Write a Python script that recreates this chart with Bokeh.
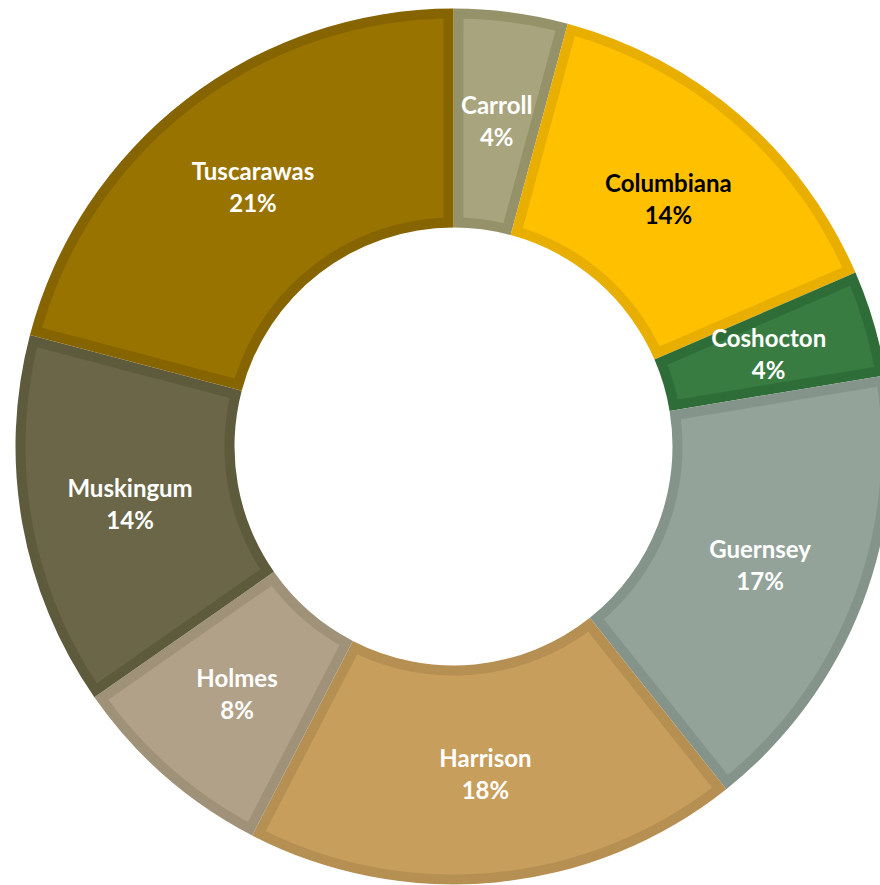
import math
from bokeh.plotting import figure
from bokeh.models import ColumnDataSource
from bokeh.core.properties import value
from bokeh.embed import file_html
from bokeh.resources import INLINE

# ---- data ----
counties = ["Carroll", "Columbiana", "Coshocton", "Guernsey", "Harrison", "Holmes", "Muskingum", "Tuscarawas"]
shares = [4.2, 14.3, 3.9, 16.9, 18.3, 7.7, 13.8, 20.9]
fill_colors = ["#A8A47D", "#FFC000", "#387C42", "#93A39A", "#C89E5C", "#B0A188", "#6B6647", "#997300"]
edge_colors = ["#959269", "#E8AE00", "#2F6D38", "#84948B", "#B68F52", "#A09279", "#5E5A3C", "#866500"]
text_colors = ["white", "black", "white", "white", "white", "white", "white", "white"]

R_OUT = 438.0
R_IN = 219.0
BORDER = 10.0

total = sum(shares)
starts, ends = [], []
acc = 0.0
for s in shares:
    starts.append(acc / total * 2 * math.pi)
    acc += s
    ends.append(acc / total * 2 * math.pi)

# bokeh angles (counter-clockwise from +x); slices go clockwise from 12 o'clock
b_start = [math.pi / 2 - a for a in starts]
b_end = [math.pi / 2 - a for a in ends]

outer_src = ColumnDataSource(dict(x=[0] * len(shares), y=[0] * len(shares),
                                  start=b_start, end=b_end, color=edge_colors))

# inner (fill) polygons inset by BORDER on all sides
xs, ys = [], []
ro = R_OUT - BORDER
ri = R_IN + BORDER
for a1, a2 in zip(starts, ends):
    do = math.asin(BORDER / ro)
    di = math.asin(BORDER / ri)
    px, py = [], []
    n = 80
    o1, o2 = a1 + do, a2 - do
    for k in range(n + 1):
        t = o1 + (o2 - o1) * k / n
        px.append(ro * math.sin(t)); py.append(ro * math.cos(t))
    i1, i2 = a2 - di, a1 + di
    for k in range(n + 1):
        t = i1 + (i2 - i1) * k / n
        px.append(ri * math.sin(t)); py.append(ri * math.cos(t))
    xs.append(px); ys.append(py)

inner_src = ColumnDataSource(dict(xs=xs, ys=ys, color=fill_colors))

R_MID = (R_OUT + R_IN) / 2
lx, ly = [], []
for a1, a2 in zip(starts, ends):
    m = (a1 + a2) / 2
    lx.append(R_MID * math.sin(m)); ly.append(R_MID * math.cos(m))
names_src = ColumnDataSource(dict(x=lx, y=[v + 16 for v in ly], t=counties, c=text_colors))
pct_src = ColumnDataSource(dict(x=lx, y=[v - 16 for v in ly],
                                t=[f"{round(s / total * 100)}%" for s in shares], c=text_colors))

W, H = 880, 885
p = figure(width=W, height=H, x_range=(-453, 427), y_range=(-439, 446),
           output_backend="svg", toolbar_location=None, min_border=0)
p.axis.visible = False
p.grid.visible = False
p.outline_line_color = None
p.background_fill_color = "white"

p.annular_wedge(x="x", y="y", inner_radius=R_IN, outer_radius=R_OUT,
                start_angle="start", end_angle="end", direction="clock",
                fill_color="color", line_color=None, source=outer_src)
p.patches(xs="xs", ys="ys", fill_color="color", line_color=None, source=inner_src)

for src in (names_src, pct_src):
    p.text(x="x", y="y", text="t", text_color="c", source=src,
           text_font=value("Lato"), text_font_style="bold", text_font_size="24px",
           text_align="center", text_baseline="middle")

open("out.html", "w").write(file_html(p, INLINE))
